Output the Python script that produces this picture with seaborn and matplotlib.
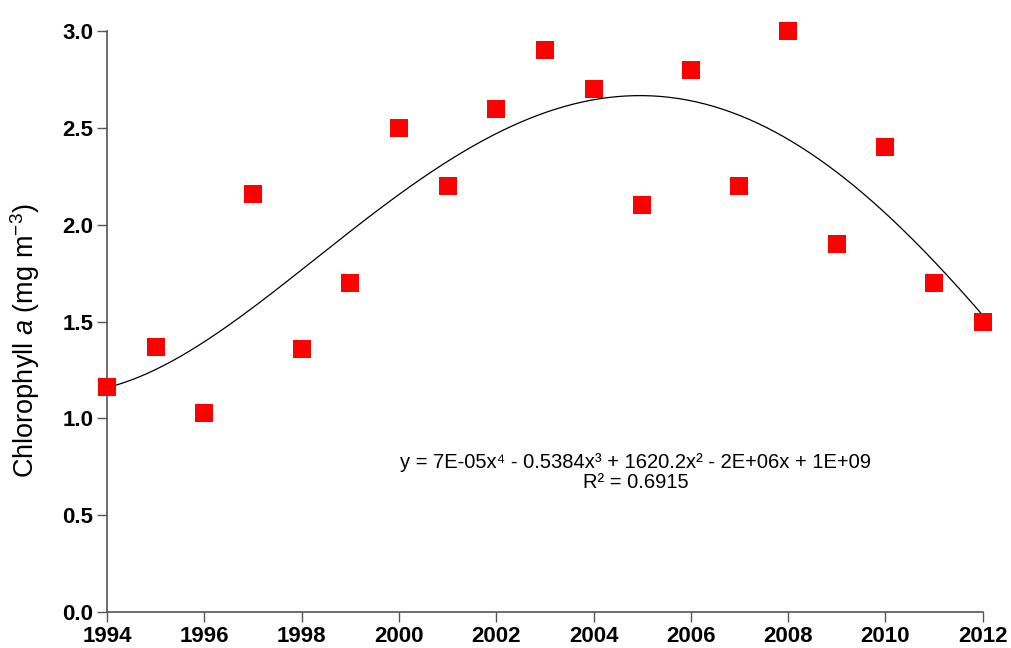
import numpy as np
import pandas as pd
import seaborn as sns
import matplotlib.pyplot as plt

years = [1994, 1995, 1996, 1997, 1998, 1999, 2000, 2001, 2002, 2003,
         2004, 2005, 2006, 2007, 2008, 2009, 2010, 2011, 2012]
chl = [1.16, 1.37, 1.03, 2.16, 1.36, 1.70, 2.50, 2.20, 2.60, 2.90,
       2.70, 2.10, 2.80, 2.20, 3.00, 1.90, 2.40, 1.70, 1.50]
eq_text = "y = 7E-05x⁴ - 0.5384x³ + 1620.2x² - 2E+06x + 1E+09\nR² = 0.6915"

df = pd.DataFrame({'year': years, 'chl': chl})

sns.set_style('white')
plt.rcParams['font.family'] = ['Liberation Sans', 'DejaVu Sans']
plt.rcParams['text.color'] = 'black'
plt.rcParams['axes.labelcolor'] = 'black'
plt.rcParams['xtick.color'] = 'black'
plt.rcParams['ytick.color'] = 'black'
plt.rcParams['mathtext.fontset'] = 'custom'
plt.rcParams['mathtext.rm'] = 'Liberation Sans'
plt.rcParams['mathtext.it'] = 'Liberation Sans:italic'

fig = plt.figure(figsize=(10.11, 6.48), dpi=100)
ax = fig.add_axes([0.106, 0.0556, 0.866, 0.8964])

# 4th order polynomial trendline (centred x for stability)
x0 = df['year'].mean()
coef = np.polyfit(df['year'] - x0, df['chl'], 4)
xs = np.linspace(1994, 2012, 300)
trend = pd.DataFrame({'year': xs, 'fit': np.polyval(coef, xs - x0)})
sns.lineplot(data=trend, x='year', y='fit', color='black', linewidth=0.9, ax=ax)

sns.scatterplot(data=df, x='year', y='chl', marker='s', s=150, color='#ff0000',
                edgecolor='#ff0000', linewidth=0, ax=ax, zorder=3, clip_on=False)

ax.set_xlim(1994, 2012)
ax.set_ylim(0, 3.0)
ax.set_xticks(range(1994, 2013, 2))
ax.set_yticks(np.arange(0, 3.01, 0.5))
ax.set_yticklabels([f'{v:.1f}' for v in np.arange(0, 3.01, 0.5)])
ax.tick_params(axis='both', which='major', bottom=True, left=True, direction='out',
               length=7, width=1, color='#555555', labelcolor='black',
               labelsize=16, pad=3)
for lab in ax.get_xticklabels() + ax.get_yticklabels():
    lab.set_fontweight('bold')

for s in ['top', 'right']:
    ax.spines[s].set_visible(False)
for s in ['left', 'bottom']:
    ax.spines[s].set_color('#555555')
    ax.spines[s].set_linewidth(1.2)

ax.set_xlabel('')
ax.set_ylabel(r'Chlorophyll $\it{a}$ (mg m$^{-3}$)', fontsize=19.5, color='black',
              va='center')
ax.yaxis.set_label_coords(-0.094, 0.467)

ax.text(2004.87, 0.72, eq_text, fontsize=14.5, ha='center', va='center',
        linespacing=1.1, color='black')

fig.savefig('out.png', dpi=100)
